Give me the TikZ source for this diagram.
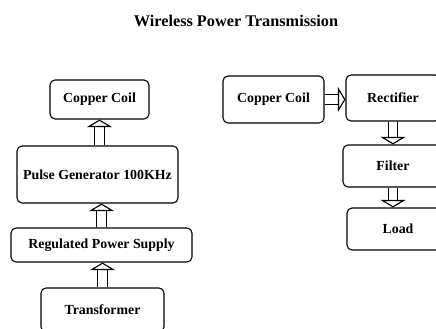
\documentclass[tikz,border=0pt]{standalone}
\usepackage{fontspec}
\setmainfont{Liberation Serif}
\usetikzlibrary{arrows.meta}

\begin{document}
\begin{tikzpicture}[
    box/.style={draw, line width=1.1pt, rounded corners=5pt, inner sep=0pt, font=\fontsize{13.8}{16}\selectfont\bfseries},
    ttl/.style={font=\fontsize{16.2}{19}\selectfont\bfseries},
    flow/.style={double, double distance=8.5pt, line width=1.1pt, -{Triangle[fill=white, length=7.5pt, width=25pt]}},
  ]
  \useasboundingbox (0,0) rectangle (15.26,11.48);
  \node[ttl] (title) at (8.26,10.76) {Wireless Power Transmission};

  % ---------------- transmitter
  \node[box, minimum width=3.465cm, minimum height=1.365cm] (coilL) at (3.4825,7.9975) {Copper Coil};
  \node[box, minimum width=5.635cm, minimum height=1.995cm] (pulse) at (3.4125,5.3725) {Pulse Generator 100KHz};
  \node[box, minimum width=6.335cm, minimum height=1.19cm] (rps) at (3.5525,2.905) {Regulated Power Supply};
  \node[box, minimum width=4.305cm, minimum height=1.54cm] (trf) at (3.5875,0.63) {Transformer};
  \draw[flow] (pulse.north -| coilL.south) -- (coilL.south);
  \draw[flow] (rps.north) -- (rps.north |- pulse.south);
  \draw[flow] (trf.north) -- (trf.north |- rps.south);

  % ---------------- receiver
  \node[box, minimum width=3.535cm, minimum height=1.645cm] (coilR) at (9.5725,7.9975) {Copper Coil};
  \node[box, minimum width=3.29cm, minimum height=1.61cm] (rect) at (13.755,8.05) {Rectifier};
  \node[box, minimum width=3.5cm, minimum height=1.47cm] (filt) at (13.755,5.67) {Filter};
  \node[box, minimum width=3.57cm, minimum height=1.47cm] (load) at (13.93,3.465) {Load};
  \draw[flow] (coilR.east) -- (coilR.east -| rect.west);
  \draw[flow] (rect.south) -- (rect.south |- filt.north);
  \draw[flow] (filt.south) -- (filt.south |- load.north);
\end{tikzpicture}
\end{document}
